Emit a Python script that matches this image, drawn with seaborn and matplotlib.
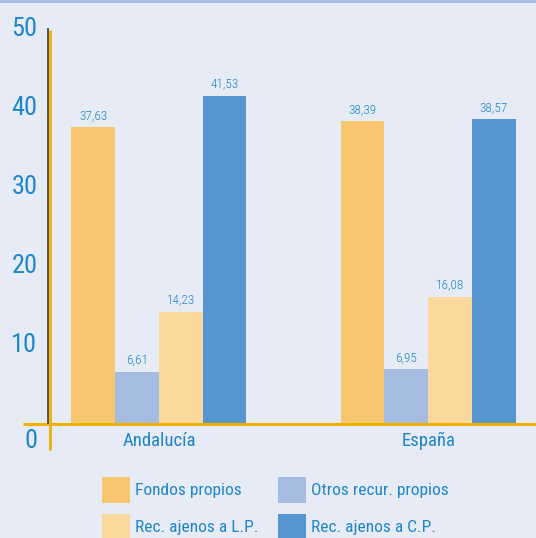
import matplotlib
matplotlib.use("Agg")
import matplotlib.pyplot as plt
import matplotlib.patches as mpatches
import matplotlib.transforms as mtransforms
from matplotlib import font_manager
import seaborn as sns
import pandas as pd

regions = ["Andalucía", "España"]
series = ["Fondos propios", "Otros recur. propios", "Rec. ajenos a L.P.", "Rec. ajenos a C.P."]
values_andalucia = [37.63, 6.61, 14.23, 41.53]
values_espana = [38.39, 6.95, 16.08, 38.57]
yticks = [10, 20, 30, 40, 50]
colors = ["#f7c770", "#a5bce0", "#fad89c", "#5795d1"]

BG = "#e6ebf6"
TXT = "#1f87c9"
GOLD = "#f0b000"

sns.set_theme(style="white")

# pick a condensed font if one is installed
entries = font_manager.fontManager.ttflist
names = {f.name for f in entries}
cond = {(f.name) for f in entries if "condensed" in str(f.stretch).lower() or f.stretch in (75, 62.5, 87.5)}
chosen, stretch = "DejaVu Sans", "normal"
for nm in ["Roboto Condensed", "Liberation Sans Narrow", "Open Sans Condensed", "Noto Sans Condensed"]:
    if nm in names:
        chosen = nm
        break
else:
    for nm in ["Roboto", "Noto Sans", "Open Sans", "DejaVu Sans"]:
        if nm in cond:
            chosen, stretch = nm, "condensed"
            break
    else:
        chosen = "Liberation Sans" if "Liberation Sans" in names else "DejaVu Sans"
plt.rcParams["font.family"] = [chosen, "DejaVu Sans"]
plt.rcParams["font.stretch"] = stretch

rows = []
for reg, vals in zip(regions, [values_andalucia, values_espana]):
    for s, v in zip(series, vals):
        rows.append({"region": reg, "serie": s, "value": v})
df = pd.DataFrame(rows)

fig = plt.figure(figsize=(5.36, 5.38), dpi=100, facecolor=BG)
ax = fig.add_axes([0.093, 0.212, 0.907, 0.734])
ax.set_facecolor(BG)

sns.barplot(data=df, x="region", y="value", hue="serie", order=regions,
            hue_order=series, palette=colors, width=0.65, saturation=1,
            dodge=True, legend=False, ax=ax, linewidth=0, edgecolor="none")

for cont in ax.containers:
    labels = [f"{b.get_height():.2f}".replace(".", ",") for b in cont]
    ax.bar_label(cont, labels=labels, padding=3.5, color=TXT, fontsize=9.5,
                 fontweight="light")

ax.set_xlim(-0.405, 1.40)
ax.set_ylim(0, 50)
ax.set_xlabel("")
ax.set_ylabel("")
for sp in ax.spines.values():
    sp.set_visible(False)
ax.set_yticks(yticks)
ax.set_yticklabels([str(t) for t in yticks])
ax.tick_params(axis="y", length=0, pad=9, labelsize=19, labelcolor=TXT)
ax.tick_params(axis="x", length=0, pad=6, labelsize=13.5, labelcolor=TXT)
for lab in ax.get_yticklabels():
    lab.set_verticalalignment("center")

# zero label below axis
ax.annotate("0", xy=(0, 0), xycoords=("axes fraction", "data"),
            xytext=(-9, -12.5), textcoords="offset points",
            ha="right", va="center", fontsize=19, color=TXT)

# axis lines
trans_x = mtransforms.blended_transform_factory(ax.transAxes, ax.transData)
ax.plot([-0.055, 1.0], [0, 0], transform=trans_x, color=GOLD, lw=2.2,
        clip_on=False, solid_capstyle="butt", zorder=5)
ax.plot([-0.004, -0.004], [0, 1.002], transform=ax.transAxes, color="#555555", lw=1.4,
        clip_on=False, solid_capstyle="butt", zorder=5)
ax.plot([0.0, 0.0], [-0.065, 0.998], transform=ax.transAxes, color=GOLD, lw=2.0,
        clip_on=False, solid_capstyle="butt", zorder=6)

# top strip
fig.patches.append(mpatches.Rectangle((0, 0.994), 1, 0.006, transform=fig.transFigure,
                                      facecolor="#a8bde3", edgecolor="none"))

# legend (column-wise order)
order = [0, 2, 1, 3]
handles = [mpatches.Patch(facecolor=colors[i], edgecolor="none", label=series[i]) for i in order]
fig.legend(handles=handles, loc="upper left", bbox_to_anchor=(0.19, 0.114),
           ncol=2, frameon=False, fontsize=12.5, labelcolor=TXT,
           handlelength=1.62, handleheight=1.95, handletextpad=0.3,
           columnspacing=1.1, labelspacing=0.62, borderpad=0, borderaxespad=0)

fig.savefig("out.png", dpi=100, facecolor=BG)
